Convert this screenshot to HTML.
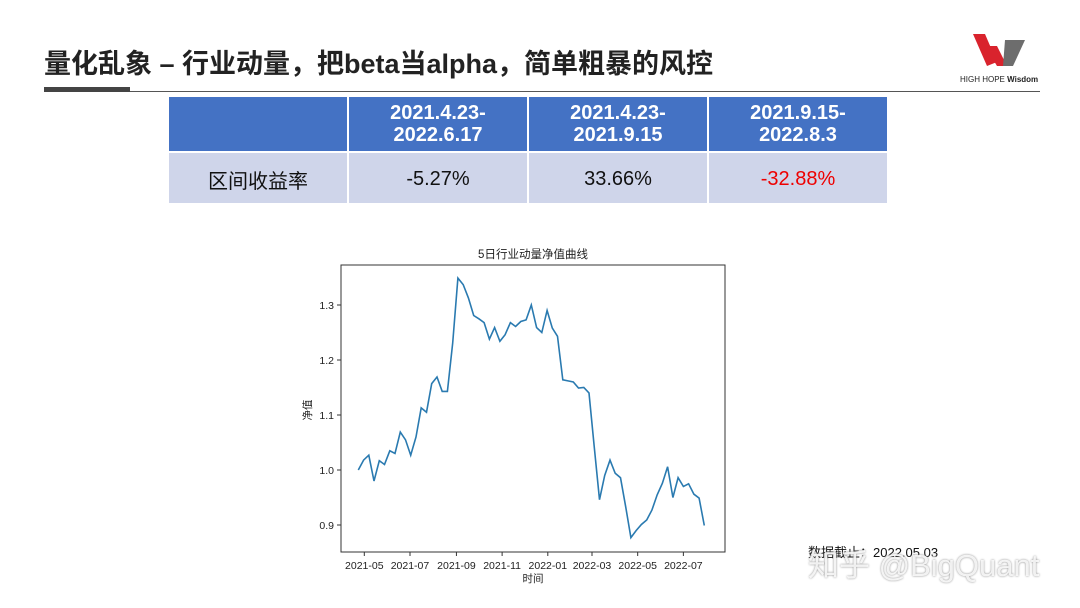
<!DOCTYPE html>
<html><head><meta charset="utf-8">
<style>
body{margin:0;width:1080px;height:608px;background:#fff;position:relative;overflow:hidden;font-family:"Liberation Sans","Noto Sans CJK SC",sans-serif}
.t{position:absolute}
table{position:absolute;left:167px;top:95px;border-collapse:collapse}
td{width:178px;text-align:center;border:2px solid #fff;font-size:20px;padding:0}
tr.h td{background:#4472C4;color:#fff;font-weight:bold;height:54px;line-height:22px}
tr.r td{background:#CFD5EA;color:#111;height:47px;padding-top:3px;box-sizing:content-box}
</style></head><body>
<div class="t" style="left:44px;top:42px;font-size:27px;font-weight:bold;color:#222">量化乱象 – 行业动量，把beta当alpha，简单粗暴的风控</div>
<div class="t" style="left:44px;top:91px;width:996px;height:1px;background:#555"></div>
<div class="t" style="left:44px;top:87px;width:86px;height:5px;background:#444"></div>
<svg class="t" style="left:965px;top:32px" width="70" height="36"><polygon points="8,2 20,2 32,30 22,34" fill="#d9232d"/><polygon points="20,14 32,14 42,34 32,34" fill="#d9232d"/><polygon points="40,8 60,8 48,34 38,34" fill="#6d6d6d"/></svg>
<div class="t" style="left:960px;top:75px;font-size:8px;color:#222">HIGH HOPE <b>Wisdom</b></div>
<table>
<tr class="h"><td></td><td>2021.4.23-<br>2022.6.17</td><td>2021.4.23-<br>2021.9.15</td><td>2021.9.15-<br>2022.8.3</td></tr>
<tr class="r"><td>区间收益率</td><td>-5.27%</td><td>33.66%</td><td style="color:#e00">-32.88%</td></tr>
</table>
<svg class="t" id="chart" style="left:0;top:0" width="1080" height="608"></svg>
<div class="t" style="left:808px;top:542px;font-size:13px;color:#111">数据截止：2022.05.03</div>
<div class="t" style="left:808px;top:540px;font-size:31px;color:rgba(255,255,255,0.85);text-shadow:0 0 2px #888">知乎 @BigQuant</div>
<script>
const values=[1.0,1.018,1.027,0.98,1.017,1.01,1.035,1.03,1.069,1.055,1.027,1.06,1.113,1.105,1.157,1.169,1.143,1.143,1.231,1.349,1.337,1.313,1.281,1.275,1.268,1.238,1.259,1.234,1.246,1.268,1.261,1.27,1.273,1.3,1.259,1.25,1.29,1.258,1.243,1.164,1.162,1.16,1.149,1.15,1.14,1.043,0.946,0.99,1.018,0.994,0.986,0.933,0.877,0.89,0.901,0.909,0.927,0.955,0.976,1.006,0.95,0.986,0.97,0.975,0.956,0.949,0.899];
const startDate="2021-04-23";
const stepDays=7;
const yTicks=[0.9,1.0,1.1,1.2,1.3];
const xTicks=["2021-05","2021-07","2021-09","2021-11","2022-01","2022-03","2022-05","2022-07"];
const svg=document.getElementById('chart');const NS="http://www.w3.org/2000/svg";
const L=341,R=725,T=265,B=552;
const d0=Date.parse("2021-05-01");
const x=t=>364.3+(t-d0)/86400000*0.749;
const y=v=>470-(v-1.0)*550;
function mk(tag,a,txt){const e=document.createElementNS(NS,tag);for(const k in a)e.setAttribute(k,a[k]);if(txt!==undefined)e.textContent=txt;svg.appendChild(e);return e;}
const f='font-family:"Liberation Sans","Noto Sans CJK SC",sans-serif;font-size:10.5px;fill:#222';
let e=mk('rect',{x:L,y:T,width:R-L,height:B-T,fill:'none',stroke:'#333','stroke-width':1});


yTicks.forEach(v=>{const yy=y(v);
 let l=mk('line',{x1:L-4,x2:L,y1:yy,y2:yy,stroke:'#333'});
 
 
 let t=mk('text',{x:L-7,y:yy+4,'text-anchor':'end',style:f},v.toFixed(1));
 
 });
xTicks.forEach(s=>{const xx=x(Date.parse(s+"-01"));
 let l=mk('line',{x1:xx,x2:xx,y1:B,y2:B+4,stroke:'#333'});
 
 
 let t=mk('text',{x:xx,y:B+17,'text-anchor':'middle',style:f},s);
 
 });
const s0=Date.parse(startDate);
const pts=values.map((v,i)=>x(s0+i*stepDays*86400000).toFixed(1)+','+y(v).toFixed(1)).join(' ');
e=mk('polyline',{points:pts,fill:'none',stroke:'#2a7ab0','stroke-width':1.6});


e=mk('text',{x:533,y:258,'text-anchor':'middle',style:f.replace('10.5px','11.5px')},'5日行业动量净值曲线');


e=mk('text',{x:533,y:582,'text-anchor':'middle',style:f},'时间');


e=mk('text',{x:311,y:410,'text-anchor':'middle',transform:'rotate(-90 311 410)',style:f},'净值');


</script>
</body></html>
